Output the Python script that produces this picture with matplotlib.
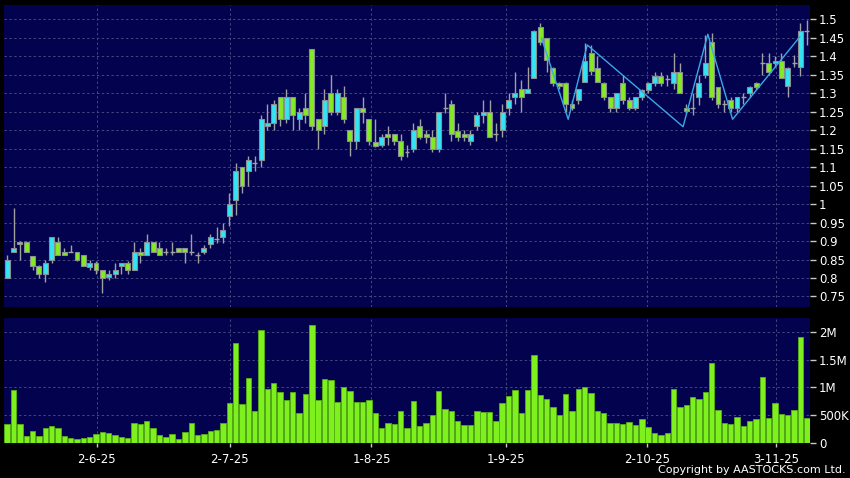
import matplotlib
matplotlib.use('Agg')
import matplotlib.pyplot as plt
import numpy as np
from matplotlib.ticker import FuncFormatter

# daily candles, oldest first
opens = [0.80, 0.869, 0.892, 0.898, 0.86, 0.832, 0.81, 0.85, 0.898, 0.869,
         0.869, 0.869, 0.861, 0.83, 0.84, 0.822, 0.802, 0.81, 0.832, 0.84,
         0.822, 0.869, 0.861, 0.898, 0.88, 0.869, 0.869, 0.88, 0.88, 0.869,
         0.861, 0.869, 0.891, 0.905, 0.91, 0.968, 1.01, 1.10, 1.09, 1.11,
         1.12, 1.21, 1.22, 1.29, 1.23, 1.29, 1.23, 1.26, 1.42, 1.23,
         1.21, 1.30, 1.25, 1.29, 1.20, 1.17, 1.26, 1.23, 1.168, 1.16,
         1.19, 1.19, 1.17, 1.14, 1.15, 1.21, 1.189, 1.18, 1.15, 1.259,
         1.27, 1.198, 1.189, 1.17, 1.21, 1.24, 1.25, 1.189, 1.20, 1.259,
         1.288, 1.31, 1.30, 1.34, 1.478, 1.448, 1.369, 1.328, 1.328, 1.27,
         1.281, 1.33, 1.409, 1.369, 1.328, 1.288, 1.259, 1.328, 1.281, 1.259,
         1.288, 1.308, 1.328, 1.346, 1.339, 1.328, 1.357, 1.259, 1.26, 1.288,
         1.349, 1.439, 1.317, 1.27, 1.281, 1.259, 1.29, 1.299, 1.328, 1.38,
         1.38, 1.38, 1.387, 1.319, 1.38, 1.371, 1.468]
highs = [0.862, 0.99, 0.90, 0.90, 0.86, 0.835, 0.85, 0.91, 0.91, 0.88,
         0.89, 0.869, 0.861, 0.85, 0.845, 0.822, 0.822, 0.84, 0.84, 0.845,
         0.898, 0.88, 0.92, 0.898, 0.898, 0.88, 0.898, 0.88, 0.88, 0.92,
         0.869, 0.89, 0.92, 0.939, 0.95, 1.03, 1.11, 1.10, 1.13, 1.13,
         1.24, 1.27, 1.28, 1.29, 1.31, 1.29, 1.26, 1.30, 1.42, 1.23,
         1.31, 1.35, 1.31, 1.32, 1.20, 1.26, 1.29, 1.23, 1.23, 1.19,
         1.21, 1.19, 1.19, 1.16, 1.22, 1.23, 1.20, 1.20, 1.25, 1.30,
         1.28, 1.22, 1.20, 1.20, 1.25, 1.28, 1.28, 1.22, 1.27, 1.30,
         1.357, 1.335, 1.37, 1.47, 1.488, 1.45, 1.37, 1.33, 1.33, 1.28,
         1.31, 1.434, 1.43, 1.40, 1.33, 1.29, 1.30, 1.35, 1.29, 1.29,
         1.31, 1.33, 1.357, 1.357, 1.35, 1.409, 1.38, 1.27, 1.30, 1.349,
         1.457, 1.461, 1.317, 1.28, 1.29, 1.29, 1.30, 1.32, 1.33, 1.409,
         1.409, 1.40, 1.409, 1.37, 1.403, 1.49, 1.497]
lows = [0.80, 0.869, 0.85, 0.869, 0.822, 0.80, 0.79, 0.84, 0.861, 0.861,
        0.869, 0.845, 0.832, 0.822, 0.81, 0.76, 0.795, 0.80, 0.81, 0.81,
        0.822, 0.84, 0.861, 0.869, 0.861, 0.861, 0.861, 0.869, 0.84, 0.861,
        0.84, 0.865, 0.88, 0.894, 0.894, 0.94, 0.97, 1.03, 1.05, 1.09,
        1.10, 1.20, 1.20, 1.21, 1.22, 1.20, 1.20, 1.22, 1.20, 1.15,
        1.19, 1.24, 1.24, 1.22, 1.13, 1.15, 1.22, 1.16, 1.155, 1.155,
        1.16, 1.16, 1.12, 1.128, 1.14, 1.175, 1.165, 1.14, 1.14, 1.245,
        1.17, 1.17, 1.17, 1.16, 1.20, 1.22, 1.18, 1.17, 1.18, 1.24,
        1.27, 1.25, 1.30, 1.34, 1.43, 1.357, 1.32, 1.31, 1.25, 1.255,
        1.27, 1.33, 1.35, 1.33, 1.28, 1.25, 1.25, 1.27, 1.255, 1.255,
        1.28, 1.30, 1.32, 1.32, 1.32, 1.31, 1.30, 1.245, 1.24, 1.268,
        1.34, 1.28, 1.259, 1.25, 1.25, 1.25, 1.27, 1.29, 1.31, 1.349,
        1.349, 1.37, 1.34, 1.288, 1.371, 1.346, 1.43]
closes = [0.85, 0.88, 0.898, 0.869, 0.832, 0.81, 0.84, 0.91, 0.861, 0.861,
          0.869, 0.85, 0.832, 0.84, 0.822, 0.80, 0.81, 0.822, 0.84, 0.822,
          0.869, 0.861, 0.898, 0.869, 0.861, 0.869, 0.869, 0.869, 0.869, 0.869,
          0.861, 0.88, 0.91, 0.905, 0.93, 1.0, 1.09, 1.05, 1.12, 1.11,
          1.23, 1.22, 1.27, 1.23, 1.29, 1.24, 1.25, 1.24, 1.21, 1.20,
          1.28, 1.25, 1.30, 1.23, 1.17, 1.26, 1.25, 1.17, 1.158, 1.18,
          1.18, 1.17, 1.13, 1.14, 1.20, 1.18, 1.18, 1.15, 1.25, 1.259,
          1.189, 1.18, 1.18, 1.189, 1.24, 1.25, 1.18, 1.189, 1.25, 1.281,
          1.299, 1.288, 1.31, 1.468, 1.439, 1.389, 1.328, 1.319, 1.27, 1.259,
          1.31, 1.387, 1.359, 1.33, 1.288, 1.259, 1.299, 1.281, 1.259, 1.288,
          1.308, 1.328, 1.346, 1.328, 1.339, 1.357, 1.299, 1.252, 1.26, 1.328,
          1.382, 1.288, 1.27, 1.27, 1.259, 1.288, 1.29, 1.317, 1.317, 1.38,
          1.357, 1.387, 1.34, 1.369, 1.38, 1.468, 1.468]
# volume in millions of shares
volume = [0.34, 0.955, 0.34, 0.125, 0.22, 0.13, 0.27, 0.315, 0.27, 0.125,
          0.10, 0.083, 0.10, 0.12, 0.17, 0.21, 0.19, 0.14, 0.115, 0.095,
          0.36, 0.34, 0.40, 0.275, 0.15, 0.105, 0.16, 0.07, 0.21, 0.37,
          0.145, 0.16, 0.22, 0.245, 0.37, 0.72, 1.80, 0.70, 1.165, 0.58,
          2.03, 0.97, 1.075, 0.92, 0.78, 0.915, 0.55, 0.88, 2.12, 0.78,
          1.15, 1.135, 0.745, 1.0, 0.94, 0.745, 0.745, 0.775, 0.54, 0.27,
          0.36, 0.345, 0.58, 0.28, 0.76, 0.315, 0.37, 0.51, 0.94, 0.61,
          0.585, 0.405, 0.33, 0.335, 0.58, 0.56, 0.56, 0.40, 0.72, 0.85,
          0.955, 0.535, 0.95, 1.58, 0.865, 0.80, 0.645, 0.51, 0.88, 0.585,
          0.965, 1.0, 0.895, 0.58, 0.55, 0.355, 0.36, 0.345, 0.38, 0.33,
          0.43, 0.285, 0.185, 0.145, 0.18, 0.965, 0.65, 0.68, 0.825, 0.79,
          0.92, 1.445, 0.59, 0.36, 0.345, 0.475, 0.315, 0.40, 0.43, 1.19,
          0.455, 0.715, 0.53, 0.50, 0.59, 1.9, 0.45]

# zigzag overlay (bar position, price)
zz_pos = [84.2, 88.4, 91.4, 106.5, 110.4, 114.3, 124.9]
zz_val = [1.448, 1.229, 1.43, 1.209, 1.459, 1.229, 1.452]

date_labels = ['2-6-25', '2-7-25', '1-8-25', '1-9-25', '2-10-25', '3-11-25']
date_pos = [14.1, 35.1, 57.4, 78.6, 100.8, 121.1]

price_ticks = [0.75, 0.8, 0.85, 0.9, 0.95, 1.0, 1.05, 1.1, 1.15, 1.2,
               1.25, 1.3, 1.35, 1.4, 1.45, 1.5]
vol_ticks = [0, 0.5, 1.0, 1.5, 2.0]
vol_tick_labels = ['0', '500K', '1M', '1.5M', '2M']

BG = '#02024e'
GRID = '#45457e'
UP = '#33e4f4'
DOWN = '#84ea22'
EDGE = '#8a9090'
WICK = '#a0a0a0'

o = np.array(opens); h = np.array(highs); l = np.array(lows); c = np.array(closes)
x = np.arange(len(o))

fig = plt.figure(figsize=(8.5, 4.78), dpi=100, facecolor='black')
ax = fig.add_axes([4/850, 1 - 307/478, 806/850, 302/478])
axv = fig.add_axes([4/850, 1 - 443.3/478, 806/850, 125.3/478], sharex=ax)

for a in (ax, axv):
    a.set_facecolor(BG)
    for s in a.spines.values():
        s.set_visible(False)
    a.grid(True, color=GRID, linestyle=(0, (2.5, 2.5)), linewidth=0.7)
    a.set_axisbelow(True)
    a.yaxis.tick_right()
    a.tick_params(axis='y', colors='#c8c8c8', labelcolor='white',
                  length=4, width=1, pad=2.5, labelsize=8.5)

# candles
ax.vlines(x, l, h, color=WICK, linewidth=1, zorder=2)
doji = np.abs(c - o) < 0.004
up = (c > o) & ~doji
dn = (c < o) & ~doji
w = 0.78
ax.bar(x[up], (c - o)[up], bottom=o[up], width=w, color=UP,
       edgecolor=EDGE, linewidth=0.8, zorder=3)
ax.bar(x[dn], (o - c)[dn], bottom=c[dn], width=w, color=DOWN,
       edgecolor=EDGE, linewidth=0.8, zorder=3)
ax.hlines(c[doji], x[doji] - w / 2, x[doji] + w / 2, color=WICK,
          linewidth=1, zorder=3)
ax.plot(zz_pos, zz_val, color='#39a8e6', linewidth=1, zorder=4)

ax.set_xlim(-0.5, len(o) - 0.5)
ax.set_ylim(0.7216, 1.538)
ax.set_yticks(price_ticks)
ax.yaxis.set_major_formatter(FuncFormatter(lambda v, p: '%g' % round(v, 2)))
ax.set_xticks(date_pos)
ax.tick_params(axis='x', length=0, labelbottom=False)

# volume
axv.bar(x, volume, width=0.85, color='#7ef01e', edgecolor='#55b012',
        linewidth=0.6, zorder=3)
axv.set_ylim(0, 2.245)
axv.set_yticks(vol_ticks)
axv.set_yticklabels(vol_tick_labels)
axv.set_xticks(date_pos)
axv.set_xticklabels(date_labels)
axv.tick_params(axis='x', colors='#c8c8c8', labelcolor='white', length=3,
                width=1, pad=4, labelsize=8.5)

fig.text(0.995, 0.006, 'Copyright by AASTOCKS.com Ltd.', color='white',
         ha='right', va='bottom', fontsize=8)

fig.savefig('out.png', dpi=100, facecolor='black')
